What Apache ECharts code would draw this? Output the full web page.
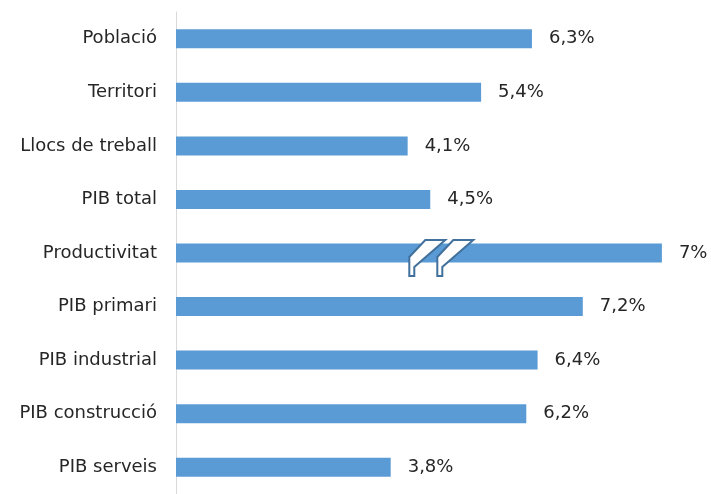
<!DOCTYPE html>
<html>
<head>
<meta charset="utf-8">
<script src="https://cdn.jsdelivr.net/npm/echarts@6/dist/echarts.min.js"></script>
<style>
html,body{margin:0;padding:0;background:#fff;}
#c{width:711px;height:494px;}
</style>
</head>
<body>
<div id="c"></div>
<script>
var categories = ["Població","Territori","Llocs de treball","PIB total","Productivitat","PIB primari","PIB industrial","PIB construcció","PIB serveis"];
var values = [6.3, 5.4, 4.1, 4.5, 8.6, 7.2, 6.4, 6.2, 3.8];
var valueLabels = ["6,3%","5,4%","4,1%","4,5%","7%","7,2%","6,4%","6,2%","3,8%"];
var brokenCategory = "Productivitat";
var breakAt = 4.2;

var chart = echarts.init(document.getElementById('c'), null, {renderer:'canvas'});
var font = '"DejaVu Sans", sans-serif';
chart.setOption({
  animation: false,
  grid: {left: 176, top: 12, width: 508.5, height: 486, containLabel: false},
  xAxis: {
    type: 'value', min: 0, max: 9,
    show: false
  },
  yAxis: {
    type: 'category', data: categories, inverse: true,
    axisLine: {show: true, lineStyle: {color: '#d9d9d9', width: 1}},
    axisTick: {show: false},
    axisLabel: {color: '#262626', fontSize: 18, fontFamily: font, margin: 19}
  },
  series: [{
    type: 'bar',
    data: values,
    barWidth: 19,
    itemStyle: {color: '#5b9bd5'},
    label: {
      show: true, position: 'right', distance: 17,
      color: '#262626', fontSize: 18, fontFamily: font,
      formatter: function(p){ return valueLabels[p.dataIndex]; }
    }
  }]
});

var p = chart.convertToPixel({gridIndex:0}, [breakAt, brokenCategory]);
var x0 = p[0], yc = p[1];
function shape(dx){
  return {
    type: 'polygon', z: 100,
    shape: {points: [
      [x0+12+dx, yc-13], [x0+32+dx, yc-13], [x0+1+dx, yc+14],
      [x0+1+dx, yc+23], [x0-4+dx, yc+23], [x0-4+dx, yc+4]
    ]},
    style: {fill: '#fff', stroke: '#41719c', lineWidth: 2}
  };
}
chart.setOption({graphic: [shape(0), shape(28)]});
</script>
</body>
</html>
